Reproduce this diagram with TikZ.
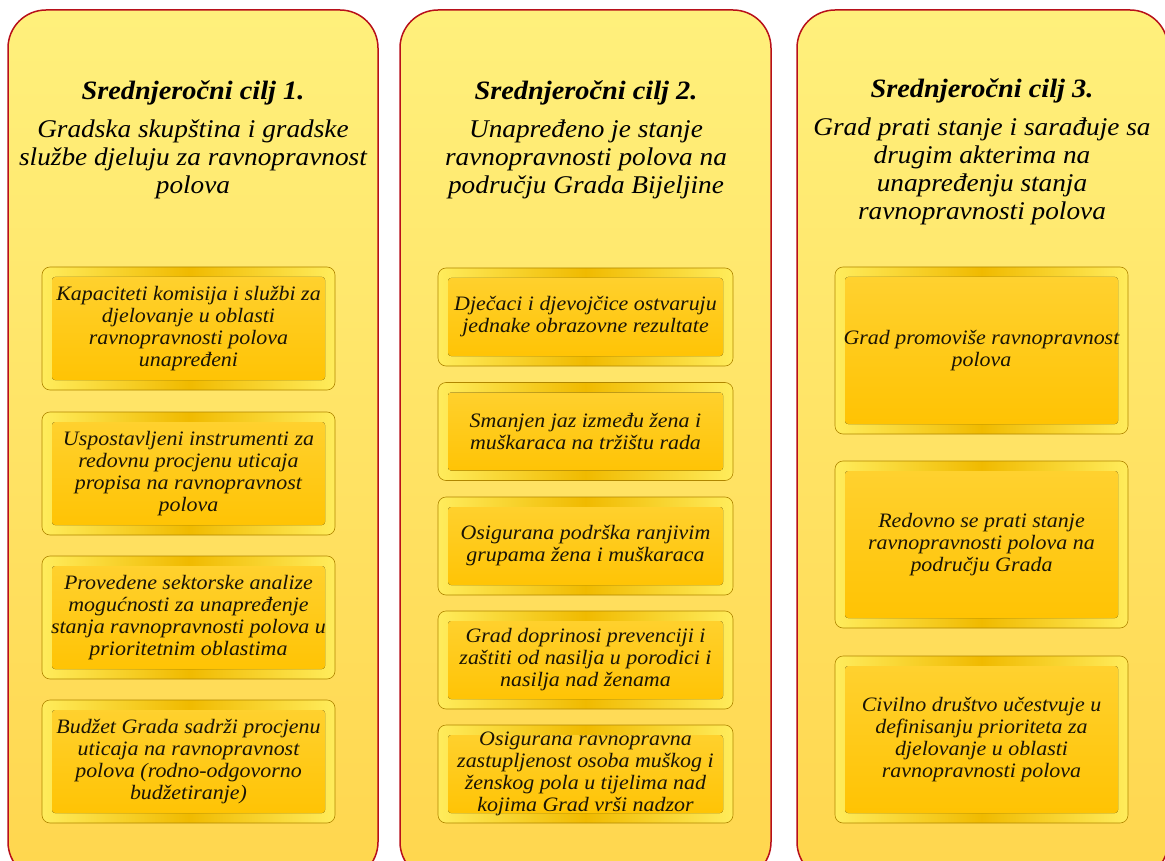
\documentclass[tikz,border=0pt]{standalone}
\usepackage{fontspec}
\setmainfont{Liberation Serif}[FakeStretch=1.07]
\definecolor{panelTop}{HTML}{FFF07C}
\definecolor{panelBot}{HTML}{FFD64E}
\definecolor{panelRed}{HTML}{B8101A}
\definecolor{goldEdge}{HTML}{B08600}
\definecolor{goldLight}{HTML}{FFEC5C}
\definecolor{goldMid}{HTML}{F0BA00}
\definecolor{faceTop}{HTML}{FFD232}
\definecolor{faceBot}{HTML}{FFC200}
\definecolor{inkDark}{HTML}{1A1405}
\begin{document}
\begin{tikzpicture}[x=1pt,y=-1pt,
  panel/.style={draw=panelRed, line width=1.5pt, rounded corners=38pt, top color=panelTop, bottom color=panelBot},
  ttl/.style={anchor=base, font=\fontsize{26.5}{28}\selectfont\bfseries\itshape},
  sub/.style={anchor=base, align=center, font=\fontsize{25.5}{28}\selectfont\itshape},
  goal/.style={rounded corners=8pt, draw=goldEdge, line width=0.6pt,
    left color=goldLight, right color=goldLight, middle color=goldMid,
    path picture={\fill[top color=faceTop, bottom color=faceBot, rounded corners=3pt]
      ([shift={(10pt,-10pt)}]path picture bounding box.north west) rectangle
      ([shift={(-10pt,10pt)}]path picture bounding box.south east);},
    align=center, inner sep=0pt, text=inkDark, font=\fontsize{20.5}{22}\selectfont\itshape},
  goalA/.style={goal, minimum width=293pt, minimum height=123pt},
  goalB/.style={goal, minimum width=295pt, minimum height=98pt},
  goalC/.style={goal, minimum width=293pt, minimum height=167pt}]
\useasboundingbox (0,0) rectangle (1165,861);
% three columns
\draw[panel] (8,10) rectangle (378,880);
\draw[panel] (400,10) rectangle (771,880);
\draw[panel] (797,10) rectangle (1168,880);
% column 1 (base of a sub node = its last line)
\node[ttl] (t1) at (193,100) {Srednjeročni cilj 1.};
\node[sub] (s1) at (193,194) {Gradska skupština i gradske\\službe djeluju za ravnopravnost\\polova};
\node[goalA] (g11) at (188.5,328.5) {Kapaciteti komisija i službi za\\djelovanje u oblasti\\ravnopravnosti polova\\unapređeni};
\node[goalA] (g12) at (188.5,473.5) {Uspostavljeni instrumenti za\\redovnu procjenu uticaja\\propisa na ravnopravnost\\polova};
\node[goalA] (g13) at (188.5,617.5) {Provedene sektorske analize\\mogućnosti za unapređenje\\stanja ravnopravnosti polova u\\prioritetnim oblastima};
\node[goalA] (g14) at (188.5,761.5) {Budžet Grada sadrži procjenu\\uticaja na ravnopravnost\\polova (rodno-odgovorno\\budžetiranje)};
% column 2
\node[ttl] (t2) at (586,100) {Srednjeročni cilj 2.};
\node[sub] (s2) at (586,194) {Unapređeno je stanje\\ravnopravnosti polova na\\području Grada Bijeljine};
\node[goalB] (g21) at (585.5,317) {Dječaci i djevojčice ostvaruju\\jednake obrazovne rezultate};
\node[goalB] (g22) at (585.5,431.5) {Smanjen jaz između žena i\\muškaraca na tržištu rada};
\node[goalB] (g23) at (585.5,546) {Osigurana podrška ranjivim\\grupama žena i muškaraca};
\node[goalB] (g24) at (585.5,660) {Grad doprinosi prevenciji i\\zaštiti od nasilja u porodici i\\nasilja nad ženama};
\node[goalB] (g25) at (585.5,774) {Osigurana ravnopravna\\zastupljenost osoba muškog i\\ženskog pola u tijelima nad\\kojima Grad vrši nadzor};
% column 3
\node[ttl] (t3) at (982,98) {Srednjeročni cilj 3.};
\node[sub] (s3) at (982,220) {Grad prati stanje i sarađuje sa\\drugim akterima na\\unapređenju stanja\\ravnopravnosti polova};
\node[goalC] (g31) at (981.5,350.5) {Grad promoviše ravnopravnost\\polova};
\node[goalC] (g32) at (981.5,544.5) {Redovno se prati stanje\\ravnopravnosti polova na\\području Grada};
\node[goalC] (g33) at (981.5,739.5) {Civilno društvo učestvuje u\\definisanju prioriteta za\\djelovanje u oblasti\\ravnopravnosti polova};
\end{tikzpicture}
\end{document}
